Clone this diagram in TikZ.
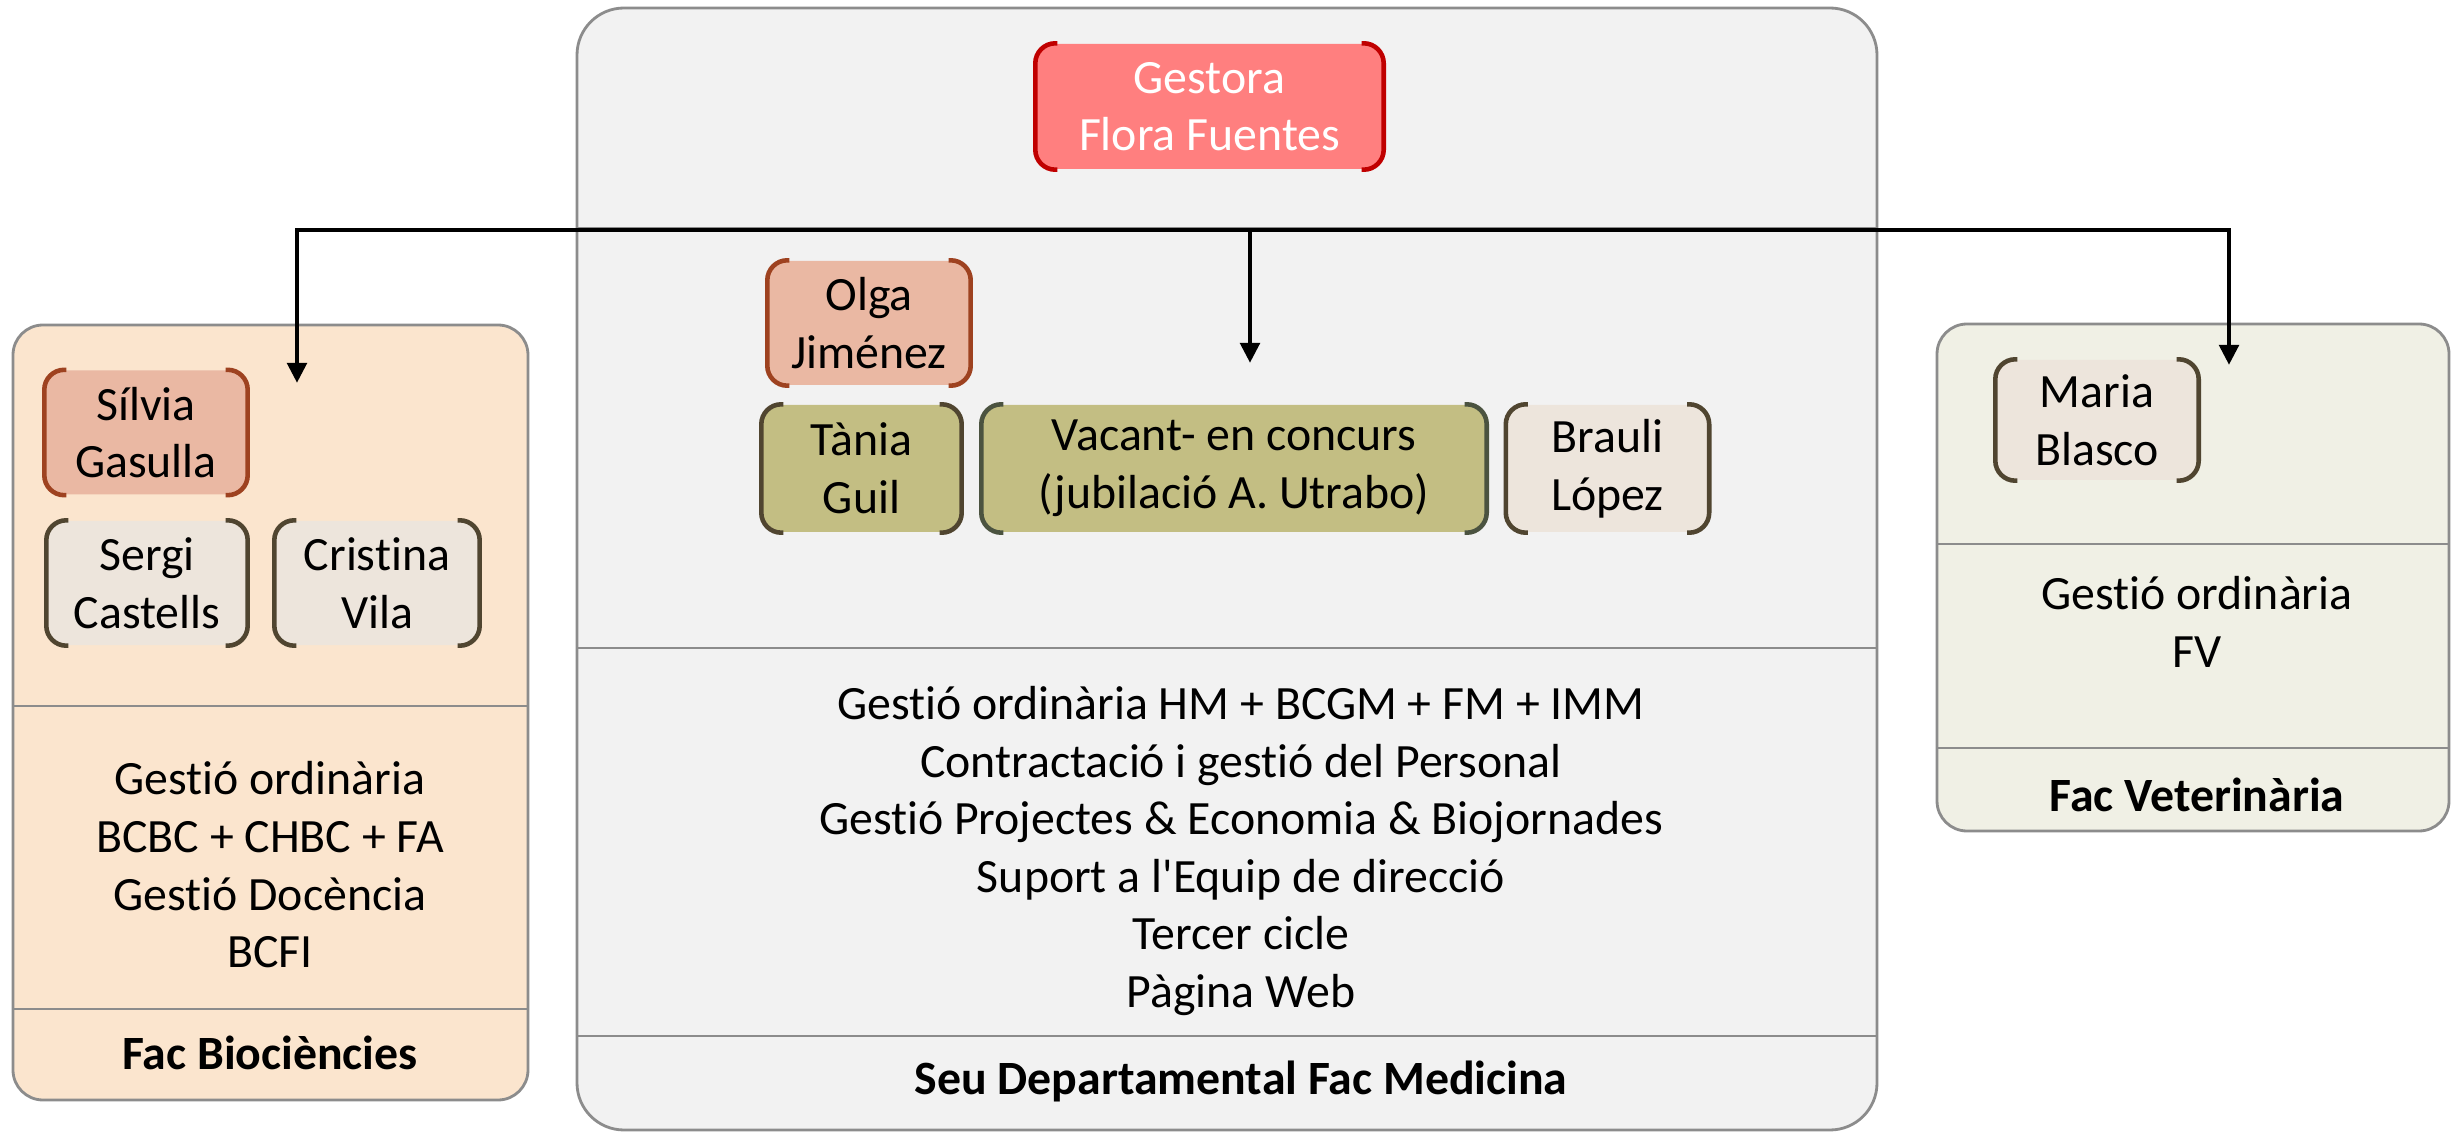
\documentclass[tikz,border=0pt]{standalone}
\usepackage{fontspec}
\setmainfont{Carlito}[Ligatures={TeXOff,NoCommon,NoContextual}, Contextuals=AlternateOff]
\usetikzlibrary{arrows.meta}

\definecolor{bioFill}{HTML}{FBE5CE}
\definecolor{medFill}{HTML}{F2F2F2}
\definecolor{vetFill}{HTML}{F0F0E5}
\definecolor{panelLine}{HTML}{8C8C8C}
\definecolor{gestFill}{HTML}{FF7F7F}
\definecolor{gestLine}{HTML}{C00000}
\definecolor{redFill}{HTML}{EAB8A3}
\definecolor{redLine}{HTML}{9E4220}
\definecolor{beigeFill}{HTML}{EDE5DC}
\definecolor{darkLine}{HTML}{504530}
\definecolor{oliveFill}{HTML}{C3BE83}
\definecolor{oliveLine}{HTML}{4B5340}

\begin{document}
\begin{tikzpicture}[
  every node/.style={font=\fontsize{13.6}{16.4}\selectfont},
  panel/.style={draw=panelLine, line width=0.8pt, rounded corners=0.3cm, inner sep=0pt},
  divline/.style={draw=panelLine, line width=0.8pt},
  person/.style={fill=#1, rounded corners=0.2cm, align=center, inner sep=0pt,
                 minimum width=2.02cm, minimum height=1.24cm},
  brkt/.style={draw=#1, line width=1.3pt, rounded corners=0.2cm},
  conn/.style={line width=1.4pt, -{Triangle[length=0.2cm,width=0.19cm]}},
  title/.style={font=\fontsize{13.6}{16.4}\selectfont\bfseries}
]
\useasboundingbox (0,0) rectangle (24.53,-11.32);

% panels
\node[panel, fill=bioFill, minimum width=5.15cm, minimum height=7.75cm] (bio) at (2.705,-7.125) {};
\node[panel, fill=medFill, rounded corners=0.47cm, minimum width=13cm, minimum height=11.22cm] (med) at (12.27,-5.69) {};
\node[panel, fill=vetFill, minimum width=5.12cm, minimum height=5.07cm] (vet) at (21.93,-5.775) {};

\draw[divline] (0.13,-7.06) -- (5.28,-7.06);
\draw[divline] (0.13,-10.09) -- (5.28,-10.09);
\draw[divline] (5.77,-2.28) -- (18.77,-2.28);
\draw[divline] (5.77,-6.48) -- (18.77,-6.48);
\draw[divline] (5.77,-10.36) -- (18.77,-10.36);
\draw[divline] (19.37,-5.44) -- (24.49,-5.44);
\draw[divline] (19.37,-7.48) -- (24.49,-7.48);

% tasks and titles
\node[align=center] (biotasks) at (2.70,-8.65) {Gestió ordinària\\BCBC + CHBC + FA\\Gestió Docència\\BCFI};
\node[title] (biotitle) at (2.70,-10.53) {Fac Biociències};
\node[align=center] (medtasks) at (12.41,-8.51) {Gestió ordinària HM + BCGM + FM + IMM\\Contractació i gestió del Personal\\Gestió Projectes \& Economia \& Biojornades\\Suport a l'Equip de direcció\\Tercer cicle\\Pàgina Web};
\node[title] (medtitle) at (12.41,-10.81) {Seu Departamental Fac Medicina};
\node[align=center] (vettasks) at (21.97,-6.22) {Gestió ordinària\\FV};
\node[title] (vettitle) at (21.97,-7.95) {Fac Veterinària};

% connectors
\coordinate (hub) at (12.50,-2.30);
\coordinate (bioin) at (2.97,-3.83);
\coordinate (medin) at (12.50,-3.63);
\coordinate (vetin) at (22.29,-3.65);
\draw[conn] (hub) -| (bioin);
\draw[conn] (hub) -| (vetin);
\draw[conn] (hub) -- (medin);

% people
\node[person=gestFill, minimum width=3.47cm, minimum height=1.25cm, text=white] (gestora) at (12.095,-1.065) {Gestora\\Flora Fuentes};
\node[person=redFill] (olga) at (8.69,-3.23) {Olga\\Jiménez};
\node[person=oliveFill, minimum width=1.99cm, minimum height=1.27cm] (tania) at (8.615,-4.685) {Tània\\Guil};
\node[person=oliveFill, minimum width=5.04cm, minimum height=1.27cm] (vacant) at (12.34,-4.685) {Vacant- en concurs\\(jubilació A. Utrabo)};
\node[person=beigeFill, minimum height=1.27cm] (brauli) at (16.075,-4.685) {Brauli\\López};
\node[person=redFill] (silvia) at (1.46,-4.325) {Sílvia\\Gasulla};
\node[person=beigeFill, minimum width=2.0cm] (sergi) at (1.47,-5.83) {Sergi\\Castells};
\node[person=beigeFill, minimum width=2.04cm] (cristina) at (3.77,-5.83) {Cristina\\Vila};
\node[person=beigeFill, minimum height=1.2cm] (maria) at (20.97,-4.20) {Maria\\Blasco};

\foreach \n/\c in {gestora/gestLine, olga/redLine, silvia/redLine, tania/darkLine,
                   vacant/oliveLine, brauli/darkLine, sergi/darkLine, cristina/darkLine, maria/darkLine}{
  \draw[brkt=\c] ([xshift=0.22cm]\n.north west) -- (\n.north west) -- (\n.south west) -- ([xshift=0.22cm]\n.south west);
  \draw[brkt=\c] ([xshift=-0.22cm]\n.north east) -- (\n.north east) -- (\n.south east) -- ([xshift=-0.22cm]\n.south east);
}
\end{tikzpicture}
\end{document}
